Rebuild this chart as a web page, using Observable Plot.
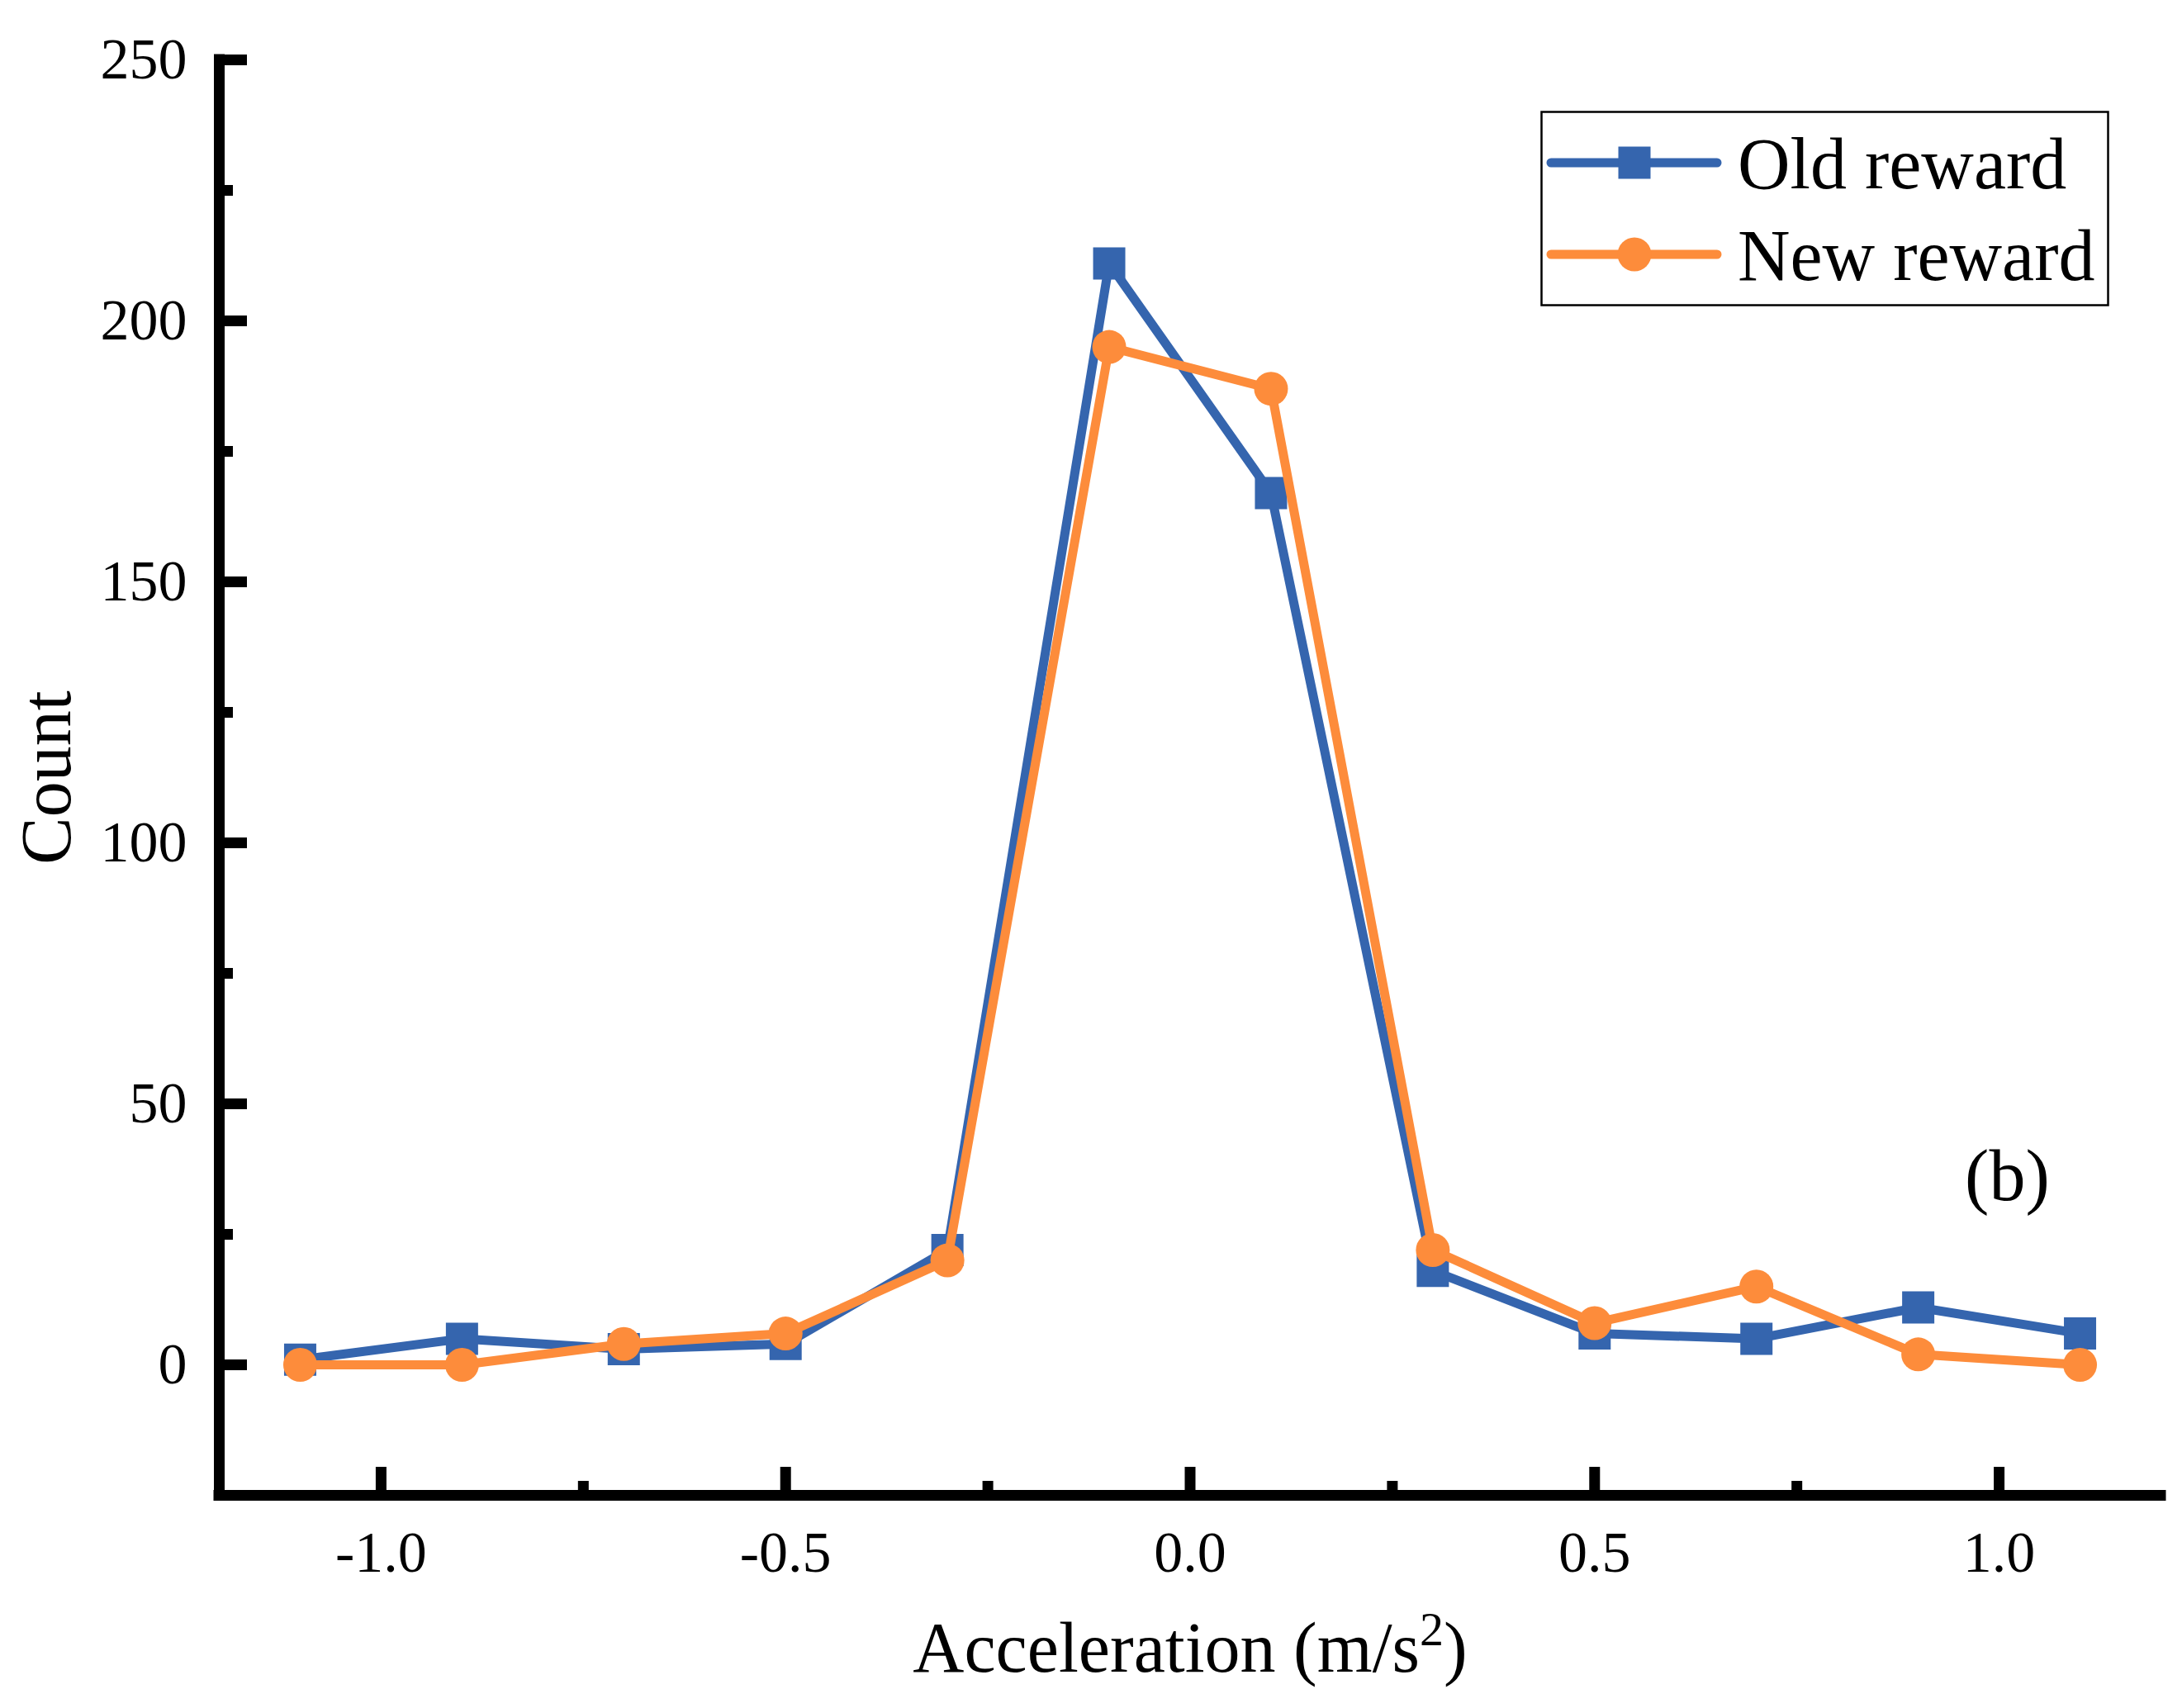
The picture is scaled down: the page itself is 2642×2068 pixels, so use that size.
<!DOCTYPE html>
<html lang="en">
<head>
<meta charset="UTF-8">
<title>Acceleration count, old vs new reward</title>
<script src="https://cdn.jsdelivr.net/npm/d3@7"></script>
<script src="https://cdn.jsdelivr.net/npm/@observablehq/plot@0.6"></script>
<style>
  html, body { margin: 0; padding: 0; background: #fff; }
  #chart { position: relative; width: 2642px; height: 2068px; }
  #legend { position: absolute; left: 1865px; top: 134px; }
</style>
</head>
<body>
<div id="chart"></div>
<script>
// values
const accel = [-1.1, -0.9, -0.7, -0.5, -0.3, -0.1, 0.1, 0.3, 0.5, 0.7, 0.9, 1.1];
const oldReward = [1, 5, 3, 4, 22, 211, 167, 18, 6, 5, 11, 6];
const newReward = [0, 0, 4, 6, 20, 195, 187, 22, 8, 15, 2, 0];
const seriesNames = ["Old reward", "New reward"];
const seriesColors = ["#3565ae", "#fd8c3b"];
const xDomain = [-1.2, 1.2];
const yDomain = [-25, 250];
const xMajor = [-1.0, -0.5, 0.0, 0.5, 1.0];
const xMinor = [-0.75, -0.25, 0.25, 0.75];
const yMajor = [0, 50, 100, 150, 200, 250];
const yMinor = [25, 75, 125, 175, 225];
const notes = [{x: 1.01, y: 31.5, text: "(b)"}];

const font = '"Liberation Serif", "Times New Roman", serif';

const oldRows = accel.map((a, i) => ({accel: a, count: oldReward[i], series: seriesNames[0]}));
const newRows = accel.map((a, i) => ({accel: a, count: newReward[i], series: seriesNames[1]}));

const svg = Plot.plot({
  width: 2642,
  height: 2068,
  marginLeft: 265,
  marginRight: 26,
  marginTop: 72,
  marginBottom: 258,
  style: {fontFamily: font, fontSize: "70px", background: "#fff", color: "#000"},
  x: {domain: xDomain},
  y: {domain: yDomain},
  color: {domain: seriesNames, range: seriesColors},
  marks: [
    Plot.axisY({ticks: yMajor, tickSize: -34, tickPadding: 73, strokeWidth: 13, label: null}),
    Plot.axisY({ticks: yMinor, tickSize: -17, tickFormat: () => "", strokeWidth: 13, label: null}),
    Plot.axisX({ticks: xMajor, tickSize: -34, tickPadding: 77, strokeWidth: 13, label: null,
      tickFormat: d => d.toFixed(1)}),
    Plot.axisX({ticks: xMinor, tickSize: -17, tickFormat: () => "", strokeWidth: 13, label: null}),
    Plot.ruleX([xDomain[0]], {strokeWidth: 13, strokeLinecap: "square"}),
    Plot.ruleY([yDomain[0]], {strokeWidth: 13, strokeLinecap: "square"}),
    Plot.line(oldRows, {x: "accel", y: "count", stroke: "series", strokeWidth: 11, strokeLinejoin: "round"}),
    Plot.dot(oldRows, {x: "accel", y: "count", fill: "series", symbol: "square", r: 22}),
    Plot.line(newRows, {x: "accel", y: "count", stroke: "series", strokeWidth: 11, strokeLinejoin: "round"}),
    Plot.dot(newRows, {x: "accel", y: "count", fill: "series", r: 20.5}),
    Plot.text(notes, {x: "x", y: "y", text: "text", fontSize: 88, lineAnchor: "bottom", fill: "#000"}),
    Plot.text(["Acceleration (m/s2)"], {frameAnchor: "bottom", dy: 213, lineAnchor: "bottom",
      textAnchor: "middle", fontSize: 86, fill: "#000", className: "xtitle"}),
    Plot.text(["Count"], {frameAnchor: "left", dx: -181, rotate: -90, lineAnchor: "bottom",
      textAnchor: "middle", fontSize: 86, fill: "#000"})
  ]
});

// superscript 2 in the x title
const xt = d3.select(svg).select(".xtitle text");
xt.text("Acceleration (m/s");
xt.append("tspan").attr("dy", -32).attr("font-size", 58).text("2");
xt.append("tspan").attr("dy", 32).text(")");

const chart = document.getElementById("chart");
chart.append(svg);

// legend box
const lg = d3.select(chart).append("svg")
  .attr("id", "legend")
  .attr("width", 690)
  .attr("height", 238)
  .style("font-family", font);
lg.append("rect")
  .attr("x", 1.5).attr("y", 1.5).attr("width", 686).attr("height", 234)
  .attr("fill", "#fff").attr("stroke", "#000").attr("stroke-width", 2.5);
seriesNames.forEach((name, i) => {
  const cy = 63 + i * 111;
  const g = lg.append("g");
  g.append("line")
    .attr("x1", 13).attr("x2", 214).attr("y1", cy).attr("y2", cy)
    .attr("stroke", seriesColors[i]).attr("stroke-width", 11).attr("stroke-linecap", "round");
  if (i === 0) {
    g.append("rect").attr("x", 114 - 19.5).attr("y", cy - 19.5).attr("width", 39).attr("height", 39)
      .attr("fill", seriesColors[i]);
  } else {
    g.append("circle").attr("cx", 114).attr("cy", cy).attr("r", 20.5).attr("fill", seriesColors[i]);
  }
  g.append("text")
    .attr("x", 239).attr("y", cy + 31)
    .attr("font-size", 88)
    .text(name);
});
</script>
</body>
</html>
